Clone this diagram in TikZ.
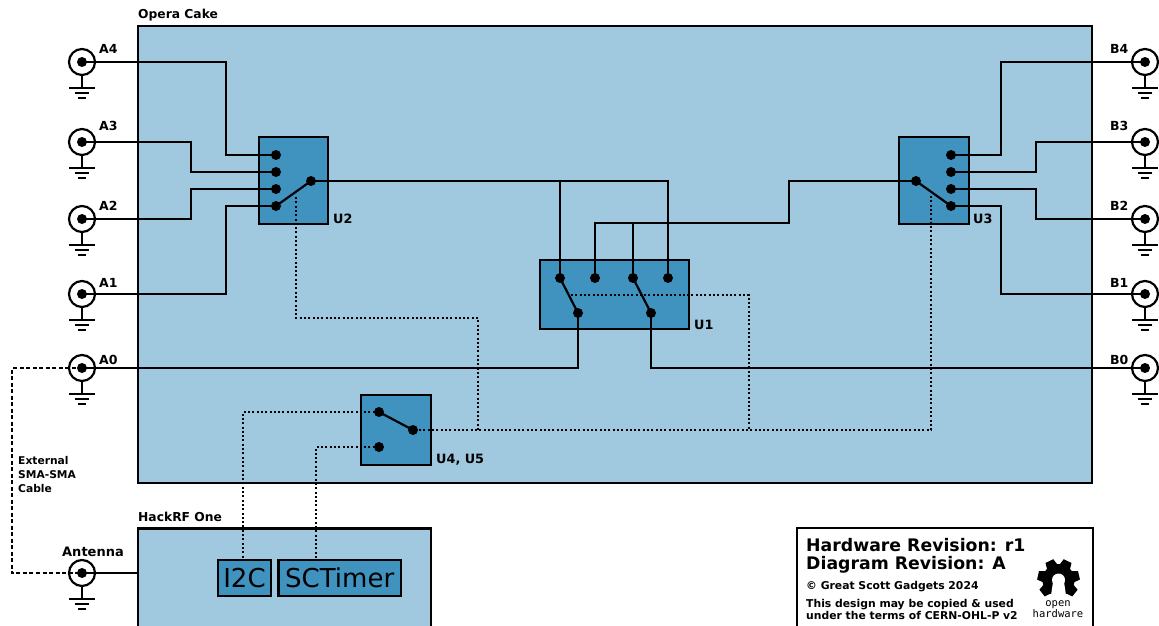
\documentclass[tikz,border=0pt]{standalone}
\usepackage{fontspec}
\setmainfont{DejaVu Sans}
\newfontfamily\logofont{DejaVu Sans Mono}
\definecolor{boardblue}{HTML}{A0C9E0}
\definecolor{partblue}{HTML}{4093BF}
\tikzset{
  x=1pt,y=-1pt,
  board/.style={draw=black,line width=2.2pt,fill=boardblue},
  part/.style={draw=black,line width=2.2pt,fill=partblue},
  wire/.style={draw=black,line width=2.2pt,line join=miter},
  ctrl/.style={draw=black,line width=2.2pt,dash pattern=on 2pt off 2.3pt},
  cable/.style={draw=black,line width=1.4pt,dash pattern=on 4pt off 2.5pt},
  pin/.style={circle,fill=black,draw=none,minimum size=10pt,inner sep=0pt},
  jack/.style={circle,draw=black,line width=2.2pt,minimum size=26pt,inner sep=0pt},
  lab/.style={font=\bfseries\fontsize{12.5}{15}\selectfont,anchor=west,inner sep=0pt},
  ulab/.style={font=\bfseries\fontsize{12.8}{15}\selectfont,anchor=west,inner sep=0pt},
  small/.style={font=\bfseries\fontsize{10.8}{12}\selectfont,anchor=west,inner sep=0pt},
  title/.style={font=\bfseries\fontsize{12.3}{14}\selectfont,anchor=west,inner sep=0pt},
  big/.style={font=\bfseries\fontsize{17.3}{20}\selectfont,anchor=west,inner sep=0pt},
  gnd/.pic={
    \draw[black,line width=2.2pt] (0,13)--(0,26);
    \draw[black,line width=2pt] (-13,26)--(13,26) (-7,31)--(7,31) (-4,36)--(4,36);
  }
}
\begin{document}
\begin{tikzpicture}
\useasboundingbox (0,0) rectangle (1159,626);
\clip (0,0) rectangle (1159,626);
% boards
\node[board,minimum width=954pt,minimum height=457pt,inner sep=0pt] (opera) at (615,254.5) {};
\node[board,minimum width=293pt,minimum height=140pt,inner sep=0pt] (hackrf) at (284.5,598.5) {};
\node[title] (tOpera) at (138,15) {Opera Cake};
\node[title] (tHack) at (138,517) {HackRF One};
% parts
\node[part,minimum width=69pt,minimum height=87pt,inner sep=0pt] (U2) at (293.5,180.5) {};
\node[part,minimum width=70pt,minimum height=87pt,inner sep=0pt] (U3) at (934,180.5) {};
\node[part,minimum width=149pt,minimum height=69pt,inner sep=0pt] (U1) at (614.5,294.5) {};
\node[part,minimum width=70pt,minimum height=70pt,inner sep=0pt] (U4) at (396,430) {};
\node[part,minimum width=53pt,minimum height=36pt,inner sep=0pt,font=\fontsize{26}{30}\selectfont] (i2c) at (244.5,578) {I2C};
\node[part,minimum width=122.5pt,minimum height=36pt,inner sep=0pt,font=\fontsize{26}{30}\selectfont] (sct) at (339.7,578) {SCTimer};
\node[ulab] (lU2) at (333,219) {U2};
\node[ulab] (lU3) at (973,219) {U3};
\node[ulab] (lU1) at (694,325) {U1};
\node[ulab] (lU4) at (436,460) {U4, U5};
% jacks
\foreach \n/\x/\y in {A4/82/62,A3/82/142,A2/82/219,A1/82/294,A0/82/368,Ant/82/573,B4/1145/62,B3/1145/142,B2/1145/219,B1/1145/294,B0/1145/368}{
  \node[jack] (J\n) at (\x,\y) {};
  \node[pin] (P\n) at (\x,\y) {};
  \pic at (\x,\y) {gnd};
}
\foreach \n/\x/\y in {A4/99/48.5,A3/99/126,A2/99/206,A1/99/283,A0/99/360}{\node[lab] (L\n) at (\x,\y) {\n};}
\foreach \n/\x/\y in {B4/1110/48.5,B3/1110/126,B2/1110/206,B1/1110/283,B0/1110/360}{\node[lab] (L\n) at (\x,\y) {\n};}
\node[font=\bfseries\fontsize{13}{15}\selectfont,inner sep=0pt] (LAnt) at (93,551.5) {Antenna};
% pins
\foreach \n/\x/\y in {a/276/155,b/276/172,c/276/189,d/276/206,e/311/181,
  f/951/155,g/951/172,h/951/189,i/951/206,j/916/181,
  k/560/278,l/595/278,m/633/278,n/668/278,o/578/313,p/651/313,
  q/379/412,r/379/447,s/413/430}{
  \node[pin] (\n) at (\x,\y) {};
}
\coordinate (c1) at (560,181);
\coordinate (c2) at (633,223);
\coordinate (c3) at (571,295);
\coordinate (c4) at (296,197);
\coordinate (c5) at (931,196);
\coordinate (c6) at (478,430);
\coordinate (c7) at (749,430);
% wires
\draw[wire] (PA4.center) -| (226,155) -- (a.center);
\draw[wire] (PA3.center) -| (191,172) -- (b.center);
\draw[wire] (PA2.center) -| (191,189) -- (c.center);
\draw[wire] (PA1.center) -| (226,206) -- (d.center);
\draw[wire] (e.center) -- (668,181) -- (n.center);
\draw[wire] (c1) -- (k.center);
\draw[wire] (d.center) -- (e.center);
\draw[wire] (l.center) -- (595,223) -- (789,223) -- (789,181) -- (j.center);
\draw[wire] (c2) -- (m.center);
\draw[wire] (k.center) -- (o.center);
\draw[wire] (m.center) -- (p.center);
\draw[wire] (o.center) |- (PA0.center);
\draw[wire] (p.center) |- (PB0.center);
\draw[wire] (j.center) -- (i.center);
\draw[wire] (f.center) -| (1001,62) -- (PB4.center);
\draw[wire] (g.center) -| (1036,142) -- (PB3.center);
\draw[wire] (h.center) -| (1036,219) -- (PB2.center);
\draw[wire] (i.center) -| (1001,294) -- (PB1.center);
\draw[wire] (q.center) -- (s.center);
\draw[wire] (PAnt.center) -- (hackrf.west |- PAnt.center);
% control
\draw[ctrl] (c4) |- (478,318) -- (c6);
\draw[ctrl] (c3) -| (c7);
\draw[ctrl] (c5) |- (s.center);
\draw[ctrl] (q.center) -| (243,560);
\draw[ctrl] (r.center) -| (316,560);
% cable
\draw[cable] (PA0.center) -- (12,368) -- (12,573) -- (PAnt.center);
\node[font=\bfseries\fontsize{10.7}{13.7}\selectfont,align=left,anchor=west,inner sep=0pt] (cbl) at (18,474.5) {External\\SMA-SMA\\Cable};
% info box
\node[draw=black,line width=1.3pt,fill=white,minimum width=296pt,minimum height=110pt,inner sep=0pt] (info) at (945,583) {};
\node[big] (r1) at (806,545) {Hardware Revision: r1};
\node[big] (r2) at (806,565) {Diagram Revision: A};
\node[small] (cp) at (806,587) {© Great Scott Gadgets 2024};
\node[small,align=left] (lic) at (806,609.5) {This design may be copied \& used\\under the terms of CERN-OHL-P v2};
% logo
\begin{scope}[shift={(1058.5,580)}]
  \fill[black] (0,0) circle (16);
  \foreach \a in {0,51.43,102.86,154.29,205.71,257.14,308.57}{
    \fill[black,rotate=\a+25.7] (-6,-13) -- (-4.3,-21) -- (4.3,-21) -- (6,-13) -- cycle;
  }
  \fill[white] (0,0) circle (6.5);
  \fill[white] (-5.5,2) -- (5.5,2) -- (8.5,22) -- (-8.5,22) -- cycle;
\end{scope}
\node[font=\logofont\fontsize{10.5}{11}\selectfont,align=center,inner sep=0pt] (oh) at (1058,609.5) {open\\hardware};
\end{tikzpicture}
\end{document}
